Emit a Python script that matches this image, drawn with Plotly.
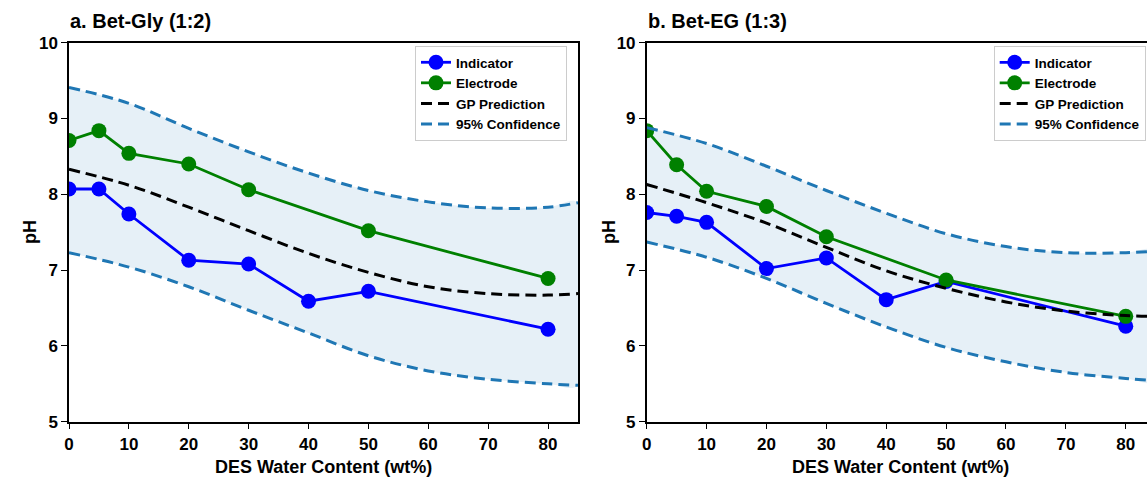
import plotly.graph_objects as go

W, H = 1147, 481

# ---------------- data ----------------
# measured points
x_meas_ind = [0, 5, 10, 20, 30, 40, 50, 80]
x_meas_ele = [0, 5, 10, 20, 30, 50, 80]

gly_indicator = [8.07, 8.07, 7.74, 7.13, 7.08, 6.59, 6.72, 6.22]
gly_electrode = [8.71, 8.84, 8.54, 8.40, 8.06, 7.52, 6.89]

eg_indicator = [7.76, 7.71, 7.63, 7.02, 7.16, 6.61, 6.85, 6.26]
eg_electrode = [8.84, 8.39, 8.04, 7.84, 7.44, 6.87, 6.39]

# GP curves
x_gp = [0, 10, 20, 30, 40, 50, 60, 70, 80, 85]
gly_gp_mean = [8.33, 8.12, 7.83, 7.52, 7.22, 6.97, 6.78, 6.69, 6.67, 6.69]
gly_gp_upper = [9.41, 9.20, 8.87, 8.56, 8.28, 8.05, 7.90, 7.82, 7.83, 7.89]
gly_gp_lower = [7.23, 7.04, 6.78, 6.47, 6.17, 5.87, 5.67, 5.56, 5.50, 5.48]

eg_gp_mean = [8.13, 7.89, 7.62, 7.30, 6.99, 6.76, 6.58, 6.46, 6.40, 6.39]
eg_gp_upper = [8.88, 8.67, 8.37, 8.05, 7.75, 7.48, 7.31, 7.23, 7.23, 7.25]
eg_gp_lower = [7.37, 7.17, 6.89, 6.56, 6.25, 5.98, 5.79, 5.65, 5.57, 5.54]

x_ticks = [0, 10, 20, 30, 40, 50, 60, 70, 80]
y_ticks = [5, 6, 7, 8, 9, 10]

panel_titles = ["a. Bet-Gly (1:2)", "b. Bet-EG (1:3)"]
x_title = "DES Water Content (wt%)"
y_title = "pH"

# ---------------- style ----------------
FONT = "Liberation Sans, Arial, sans-serif"
C_IND = "#0000ff"
C_ELE = "#008000"
C_CI = "#1f77b4"
FILL = "rgba(31,119,180,0.11)"

fig = go.Figure()

panels = [
    dict(xa="x", ya="y", leg="legend", ind=gly_indicator, ele=gly_electrode,
         mean=gly_gp_mean, up=gly_gp_upper, lo=gly_gp_lower),
    dict(xa="x2", ya="y2", leg="legend2", ind=eg_indicator, ele=eg_electrode,
         mean=eg_gp_mean, up=eg_gp_upper, lo=eg_gp_lower),
]

for p in panels:
    # confidence band fill
    fig.add_trace(go.Scatter(
        x=x_gp + x_gp[::-1], y=p["up"] + p["lo"][::-1],
        fill="toself", fillcolor=FILL, line=dict(width=0, shape="spline"),
        mode="lines", showlegend=False, hoverinfo="skip",
        xaxis=p["xa"], yaxis=p["ya"]))
    fig.add_trace(go.Scatter(
        x=x_meas_ind, y=p["ind"], mode="lines+markers", name="Indicator",
        line=dict(color=C_IND, width=2.8), marker=dict(size=15, color=C_IND),
        xaxis=p["xa"], yaxis=p["ya"], legend=p["leg"]))
    fig.add_trace(go.Scatter(
        x=x_meas_ele, y=p["ele"], mode="lines+markers", name="Electrode",
        line=dict(color=C_ELE, width=2.8), marker=dict(size=15, color=C_ELE),
        xaxis=p["xa"], yaxis=p["ya"], legend=p["leg"]))
    fig.add_trace(go.Scatter(
        x=x_gp, y=p["mean"], mode="lines", name="GP Prediction",
        line=dict(color="black", width=3, dash="11px,6px", shape="spline"),
        xaxis=p["xa"], yaxis=p["ya"], legend=p["leg"]))
    fig.add_trace(go.Scatter(
        x=x_gp, y=p["up"], mode="lines", name="95% Confidence",
        line=dict(color=C_CI, width=3, dash="11px,6px", shape="spline"),
        xaxis=p["xa"], yaxis=p["ya"], legend=p["leg"]))
    fig.add_trace(go.Scatter(
        x=x_gp, y=p["lo"], mode="lines", name="95% Confidence",
        line=dict(color=C_CI, width=3, dash="11px,6px", shape="spline"),
        showlegend=False,
        xaxis=p["xa"], yaxis=p["ya"], legend=p["leg"]))

tickfont = dict(family=FONT, size=17, color="black", weight="bold")
y_dom = [1 - 421.7 / H, 1 - 42.7 / H]

common_x = dict(showline=True, linecolor="black", linewidth=1.5, mirror=True,
                ticks="outside", ticklen=6, tickwidth=1.4, tickcolor="black",
                tickvals=x_ticks, tickfont=tickfont, showgrid=False,
                zeroline=False, automargin=False)
common_y = dict(showline=True, linecolor="black", linewidth=1.5,
                ticks="outside", ticklen=6, tickwidth=1.4, tickcolor="black",
                tickvals=y_ticks, tickfont=tickfont, showgrid=False,
                zeroline=False, range=[5, 10], domain=y_dom, automargin=False)

x2_left = 646.7
x2_max = (W - x2_left) / ((578 - 69) / 85)

legend_common = dict(
    font=dict(family=FONT, size=13.5, color="black", weight="bold"),
    bgcolor="rgba(255,255,255,0.85)", bordercolor="#cccccc", borderwidth=1,
    xanchor="left", yanchor="top", tracegroupgap=0, itemwidth=30)

fig.update_layout(
    width=W, height=H,
    margin=dict(l=0, r=0, t=0, b=0, autoexpand=False),
    paper_bgcolor="white", plot_bgcolor="white",
    font=dict(family=FONT, color="black"),
    xaxis=dict(domain=[69 / W, 578 / W], range=[0, 85], anchor="y", **common_x),
    yaxis=dict(anchor="x", mirror=True, **common_y),
    xaxis2=dict(domain=[x2_left / W, 1.0], range=[0, x2_max], anchor="y2", **common_x),
    yaxis2=dict(anchor="x2", mirror=False, **common_y),
    legend=dict(x=415 / W, y=1 - 46 / H, **legend_common),
    legend2=dict(x=993.7 / W, y=1 - 46 / H, **legend_common),
    showlegend=True,
)

ann_font_title = dict(family=FONT, size=20, color="black", weight="bold")
ann_font_axis = dict(family=FONT, size=18, color="black", weight="bold")

annotations = [
    dict(text=panel_titles[0], x=68 / W, y=1 - 21 / H, xref="paper", yref="paper",
         xanchor="left", yanchor="middle", showarrow=False, font=ann_font_title),
    dict(text=panel_titles[1], x=646 / W, y=1 - 21 / H, xref="paper", yref="paper",
         xanchor="left", yanchor="middle", showarrow=False, font=ann_font_title),
    dict(text=x_title, x=323.5 / W, y=1 - 467 / H, xref="paper", yref="paper",
         xanchor="center", yanchor="middle", showarrow=False, font=ann_font_axis),
    dict(text=x_title, x=900.5 / W, y=1 - 467 / H, xref="paper", yref="paper",
         xanchor="center", yanchor="middle", showarrow=False, font=ann_font_axis),
    dict(text=y_title, x=30 / W, y=1 - 232 / H, xref="paper", yref="paper",
         xanchor="center", yanchor="middle", showarrow=False, textangle=-90,
         font=ann_font_axis),
    dict(text=y_title, x=609 / W, y=1 - 232 / H, xref="paper", yref="paper",
         xanchor="center", yanchor="middle", showarrow=False, textangle=-90,
         font=ann_font_axis),
]
fig.update_layout(annotations=annotations)

fig.write_html("out.html")
